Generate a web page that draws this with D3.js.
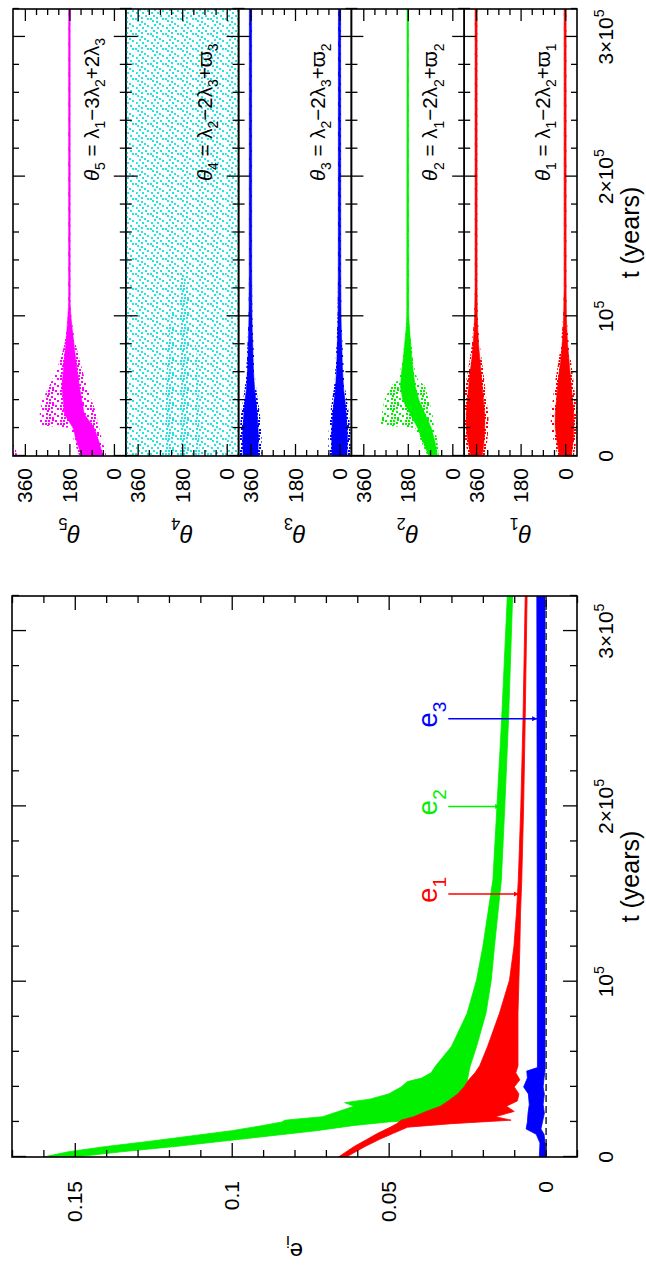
<!DOCTYPE html>
<html>
<head>
<meta charset="utf-8">
<script src="https://cdn.jsdelivr.net/npm/d3@7"></script>
<style>
  body { margin: 0; background: #fff; }
  text { font-family: "Liberation Sans", Arial, Helvetica, sans-serif; fill: #000; }
</style>
</head>
<body>
<script>
// time is in units of 1e5 years everywhere
const tMajor = [0, 1, 2, 3];
const tLabels = [["0", ""], ["10", "5"], ["2×10", "5"], ["3×10", "5"]];
const eMajor = [0, 0.05, 0.1, 0.15];
const eLabels = ["0", "0.05", "0.1", "0.15"];
const thetaMajor = [0, 180, 360];
const thetaLabels = ["0", "180", "360"];

// eccentricity envelopes: [t, min e, max e]
const e1Band = [
  [0, 0.0635, 0.0660], [0.06, 0.0575, 0.0610], [0.10, 0.0530, 0.0570],
  [0.135, 0.0485, 0.0535], [0.17, 0.0440, 0.0495], [0.19, 0.030, 0.0475],
  [0.21, 0.011, 0.046], [0.23, 0.016, 0.042], [0.26, 0.010, 0.038],
  [0.29, 0.0125, 0.0335], [0.32, 0.009, 0.031], [0.36, 0.0085, 0.028],
  [0.40, 0.010, 0.026], [0.44, 0.0082, 0.0245], [0.48, 0.0095, 0.0225],
  [0.52, 0.0088, 0.021], [0.63, 0.0088, 0.0185], [0.82, 0.0088, 0.0147],
  [1.01, 0.0085, 0.0115], [1.20, 0.0082, 0.0101], [1.39, 0.0080, 0.0093],
  [1.58, 0.0076, 0.0087], [2.0, 0.0070, 0.0079], [2.5, 0.0065, 0.0072],
  [3.2, 0.0059, 0.0065]
];
const e2Band = [
  [0, 0.150, 0.160], [0.03, 0.135, 0.152], [0.06, 0.118, 0.140],
  [0.09, 0.103, 0.126], [0.12, 0.088, 0.113], [0.15, 0.073, 0.100],
  [0.18, 0.061, 0.090], [0.20, 0.050, 0.084], [0.21, 0.040, 0.083],
  [0.23, 0.038, 0.071], [0.26, 0.034, 0.066], [0.29, 0.031, 0.061],
  [0.31, 0.030, 0.064], [0.33, 0.029, 0.056], [0.36, 0.0275, 0.050],
  [0.40, 0.026, 0.046], [0.43, 0.025, 0.044], [0.45, 0.0248, 0.0395],
  [0.48, 0.0245, 0.0365], [0.52, 0.024, 0.035], [0.63, 0.022, 0.030],
  [0.82, 0.019, 0.025], [1.01, 0.0173, 0.022], [1.20, 0.0163, 0.020],
  [1.39, 0.0152, 0.0184], [1.58, 0.0141, 0.0168], [2.0, 0.0130, 0.0155],
  [2.5, 0.0118, 0.0140], [3.2, 0.0105, 0.0122]
];
const e3Band = [
  [0, 0.0000, 0.0020], [0.08, 0.0002, 0.0018], [0.13, 0.0005, 0.0030],
  [0.16, 0.0015, 0.0062], [0.20, 0.0010, 0.0058], [0.25, 0.0004, 0.0056],
  [0.30, 0.0008, 0.0052], [0.36, 0.0004, 0.0055], [0.40, 0.0008, 0.0070],
  [0.45, 0.0005, 0.0058], [0.49, 0.0002, 0.0060], [0.51, 0.0002, 0.0026],
  [1.0, 0.0002, 0.0026], [2.0, 0.0002, 0.0027], [3.2, 0.0002, 0.0028]
];
// arrow annotations: [label subscript, t, e at arrow tip]
const eArrows = [["1", 1.5, 0.0085], ["2", 2.0, 0.0145], ["3", 2.5, 0.0027]];

// resonant angle envelopes in degrees: [t, min, max]; outer = sparse scatter, core = dense part
const theta5Outer = [
  [0, 30, 140], [0.1, 45, 160], [0.2, 60, 175], [0.22, 65, 300], [0.3, 70, 300],
  [0.4, 90, 290], [0.5, 110, 262], [0.6, 125, 236], [0.7, 140, 215], [0.8, 155, 200],
  [0.9, 165, 192], [1.0, 172, 186], [1.1, 176, 184], [3.2, 177, 183]
];
const theta5Core = [
  [0, 45, 130], [0.1, 60, 150], [0.2, 80, 165], [0.3, 120, 200], [0.5, 140, 210],
  [0.7, 155, 200], [0.9, 168, 190], [1.0, 174, 186], [1.1, 177, 183], [3.2, 177, 183]
];
const theta4Outer = [[0, 0, 360], [3.2, 0, 360]];
const theta4Core = [[0, 110, 250], [0.5, 115, 245], [1.0, 130, 230], [1.2, 160, 200], [1.3, 180, 180]];
const theta3Outer = [
  [0, -45, 45], [0.15, -45, 45], [0.3, -38, 38], [0.4, -30, 30], [0.47, -24, 24],
  [0.55, -19, 19], [0.66, -16, 16], [0.8, -12, 12], [0.9, -10, 10], [1.0, -8, 8],
  [1.3, -6, 6], [3.2, -5, 5]
];
const theta3Core = [
  [0, -30, 30], [0.15, -32, 32], [0.3, -27, 27], [0.4, -22, 22], [0.47, -17, 17],
  [0.55, -14, 14], [0.66, -11, 11], [0.8, -9, 9], [0.9, -7, 7], [1.0, -6, 6],
  [1.3, -5, 5], [3.2, -4.5, 4.5]
];
const theta2Outer = [
  [0, 55, 100], [0.1, 60, 125], [0.2, 70, 150], [0.22, 75, 290], [0.3, 80, 285],
  [0.4, 95, 275], [0.5, 110, 250], [0.55, 140, 215], [0.6, 150, 212], [0.7, 160, 200],
  [0.8, 165, 195], [0.9, 172, 188], [1.0, 176, 184], [3.2, 177, 183]
];
const theta2Core = [
  [0, 60, 95], [0.1, 70, 118], [0.2, 85, 140], [0.3, 110, 170], [0.4, 135, 200],
  [0.5, 150, 210], [0.6, 158, 205], [0.7, 164, 198], [0.8, 168, 193], [0.9, 173, 187],
  [1.0, 176, 184], [3.2, 177, 183]
];
const theta1Outer = [
  [0, -35, 30], [0.1, -45, 45], [0.2, -50, 58], [0.3, -50, 58], [0.4, -42, 50],
  [0.5, -36, 44], [0.6, -30, 34], [0.7, -22, 25], [0.8, -15, 17], [0.9, -10, 12],
  [1.0, -7, 8], [1.2, -5, 5], [3.2, -5, 5]
];
const theta1Core = [
  [0, -25, 22], [0.1, -32, 32], [0.2, -35, 40], [0.3, -35, 40], [0.4, -30, 35],
  [0.5, -25, 30], [0.6, -20, 24], [0.7, -15, 17], [0.8, -10, 12], [0.9, -7, 8],
  [1.0, -5, 6], [1.2, -4, 4], [3.2, -4, 4]
];
// formula text pieces: [text, kind]
const formula5 = [["θ", "it"], ["5", "sub"], [" = λ", ""], ["1", "sub"], ["−3λ", ""], ["2", "sub"], ["+2λ", ""], ["3", "sub"]];
const formula4 = [["θ", "it"], ["4", "sub"], [" = λ", ""], ["2", "sub"], ["−2λ", ""], ["3", "sub"], ["+ϖ", ""], ["3", "sub"]];
const formula3 = [["θ", "it"], ["3", "sub"], [" = λ", ""], ["2", "sub"], ["−2λ", ""], ["3", "sub"], ["+ϖ", ""], ["2", "sub"]];
const formula2 = [["θ", "it"], ["2", "sub"], [" = λ", ""], ["1", "sub"], ["−2λ", ""], ["2", "sub"], ["+ϖ", ""], ["2", "sub"]];
const formula1 = [["θ", "it"], ["1", "sub"], [" = λ", ""], ["1", "sub"], ["−2λ", ""], ["2", "sub"], ["+ϖ", ""], ["1", "sub"]];

const RED = "#ff0000", GREEN = "#00f000", BLUE = "#0000ff", MAGENTA = "#ff00ff", CYAN = "#22e4e4";

const thetaPanels = [
  { n: "5", color: MAGENTA, outer: theta5Outer, core: theta5Core, formula: formula5 },
  { n: "4", color: CYAN, outer: theta4Outer, core: theta4Core, formula: formula4, stipple: true },
  { n: "3", color: BLUE, outer: theta3Outer, core: theta3Core, formula: formula3 },
  { n: "2", color: GREEN, outer: theta2Outer, core: theta2Core, formula: formula2 },
  { n: "1", color: RED, outer: theta1Outer, core: theta1Core, formula: formula1 }
];

// the figure is drawn landscape (1265 x 646) and turned a quarter turn
const FW = 1265;
const svg = d3.select("body").append("svg").attr("width", 646).attr("height", 1265);
const defs = svg.append("defs");
const fig = svg.append("g").attr("transform", `translate(0,${FW}) rotate(-90)`);

// stipple tiles that imitate dense scatter points
const sparseDots = [[0, 0], [6, 1], [3, 3], [9, 4], [1, 6], [6, 7], [10, 9], [3, 10], [8, 12], [13, 2], [12, 6], [0, 12]];
const extraDots = [[3, 0], [10, 1], [0, 3], [6, 4], [4, 7], [9, 7], [0, 9], [6, 10], [13, 11], [12, 14]];
function pattern(id, color, dots, size) {
  const p = defs.append("pattern").attr("id", id)
    .attr("patternUnits", "userSpaceOnUse").attr("width", size).attr("height", size);
  dots.forEach(([x, y]) => p.append("rect").attr("x", x).attr("y", y)
    .attr("width", 2).attr("height", 2).attr("fill", color));
}

function arrowMarker(id, color) {
  defs.append("marker").attr("id", id).attr("viewBox", "0 0 10 10")
    .attr("refX", 10).attr("refY", 5).attr("markerWidth", 7).attr("markerHeight", 5)
    .attr("markerUnits", "userSpaceOnUse").attr("orient", "auto")
    .append("path").attr("d", "M0,0L10,5L0,10Z").attr("fill", color);
}

function richText(sel, segs, size) {
  let shift = 0;
  segs.forEach(([s, kind]) => {
    const target = kind === "sub" ? size * 0.3 : kind === "sup" ? -size * 0.45 : 0;
    const ts = sel.append("tspan").attr("dy", target - shift).text(s);
    if (kind === "sub" || kind === "sup") ts.attr("font-size", size * 0.68);
    if (kind === "it") ts.attr("font-style", "italic");
    shift = target;
  });
}

function tickSet(g, axisFn, scale, values, len) {
  g.call(axisFn(scale).tickValues(values).tickSize(-len).tickFormat(""))
    .call(a => a.select(".domain").remove())
    .call(a => a.selectAll("line").attr("stroke", "#000").attr("stroke-width", 1.3));
}

const tMinor = d3.range(0, 3.21, 0.2).filter(t => Math.abs(t - Math.round(t)) > 1e-6);
const eMinor = d3.range(-0.01, 0.1701, 0.01).filter(e => Math.abs(e / 0.05 - Math.round(e / 0.05)) > 1e-6);
const thetaMinor = [45, 90, 135, 225, 270, 315];

function tTickLabels(g, x, y) {
  tMajor.forEach((t, i) => {
    const txt = g.append("text").attr("x", x(t)).attr("y", y)
      .attr("text-anchor", "middle").attr("font-size", 21);
    richText(txt, [[tLabels[i][0], ""], [tLabels[i][1], "sup"]], 21);
  });
}

// ---------------- left panel: e_i ----------------
const L = { x0: 108, x1: 669, y0: 12, y1: 577 };
const xL = d3.scaleLinear().domain([0, 3.2]).range([L.x0, L.x1]);
const yL = d3.scaleLinear().domain([-0.01, 0.17]).range([L.y1, L.y0]);

defs.append("clipPath").attr("id", "clipL").append("rect")
  .attr("x", L.x0).attr("y", L.y0).attr("width", L.x1 - L.x0).attr("height", L.y1 - L.y0);

const left = fig.append("g");
const plotL = left.append("g").attr("clip-path", "url(#clipL)");
const bandArea = d3.area().x(d => xL(d[0])).y0(d => yL(d[1])).y1(d => yL(d[2]));

[[e2Band, GREEN], [e1Band, RED], [e3Band, BLUE]].forEach(([band, color]) => {
  plotL.append("path").datum(band).attr("d", bandArea)
    .attr("fill", color).attr("stroke", color).attr("stroke-width", 0.8);
});

plotL.append("line").attr("x1", L.x0).attr("x2", L.x1).attr("y1", yL(0) + 0.5).attr("y2", yL(0) + 0.5)
  .attr("stroke", "#333").attr("stroke-width", 1.6).attr("stroke-dasharray", "7,4");

tickSet(left.append("g").attr("transform", `translate(0,${L.y1})`), d3.axisBottom, xL, tMajor, 14);
tickSet(left.append("g").attr("transform", `translate(0,${L.y1})`), d3.axisBottom, xL, tMinor, 7);
tickSet(left.append("g").attr("transform", `translate(0,${L.y0})`), d3.axisTop, xL, tMajor, 14);
tickSet(left.append("g").attr("transform", `translate(0,${L.y0})`), d3.axisTop, xL, tMinor, 7);
tickSet(left.append("g").attr("transform", `translate(${L.x0},0)`), d3.axisLeft, yL, eMajor, 14);
tickSet(left.append("g").attr("transform", `translate(${L.x0},0)`), d3.axisLeft, yL, eMinor, 7);
tickSet(left.append("g").attr("transform", `translate(${L.x1},0)`), d3.axisRight, yL, eMajor, 14);
tickSet(left.append("g").attr("transform", `translate(${L.x1},0)`), d3.axisRight, yL, eMinor, 7);

left.append("rect").attr("x", L.x0).attr("y", L.y0).attr("width", L.x1 - L.x0).attr("height", L.y1 - L.y0)
  .attr("fill", "none").attr("stroke", "#000").attr("stroke-width", 1.6);

eMajor.forEach((e, i) => {
  left.append("text").attr("x", L.x0 - 24).attr("y", yL(e) + 7.5)
    .attr("text-anchor", "end").attr("font-size", 21).text(eLabels[i]);
});
tTickLabels(left, xL, 613);
left.append("text").attr("x", (L.x0 + L.x1) / 2).attr("y", 639).attr("text-anchor", "middle")
  .attr("font-size", 25).text("t  (years)");
const eTitle = left.append("text").attr("text-anchor", "middle").attr("font-size", 24)
  .attr("transform", `translate(22,${(L.y0 + L.y1) / 2}) rotate(-90)`);
richText(eTitle, [["e", ""], ["i", "sub"]], 24);

const arrowColors = { "1": RED, "2": GREEN, "3": BLUE };
eArrows.forEach(([n, t, e]) => {
  const color = arrowColors[n];
  arrowMarker("arrow" + n, color);
  left.append("line").attr("x1", xL(t)).attr("x2", xL(t))
    .attr("y1", yL(0.031)).attr("y2", yL(e))
    .attr("stroke", color).attr("stroke-width", 1.5).attr("marker-end", `url(#arrow${n})`);
  const lab = left.append("text").attr("x", xL(t) - 9).attr("y", yL(0.0345))
    .attr("font-size", 28).attr("fill", color);
  richText(lab, [["e", ""], [n, "sub"]], 28);
  lab.selectAll("tspan").attr("fill", color);
});

// ---------------- right panel: resonant angles ----------------
const R = { x0: 809, x1: 1256, y0: 13, y1: 577 };
const xR = d3.scaleLinear().domain([0, 3.2]).range([R.x0, R.x1]);
const subH = (R.y1 - R.y0) / thetaPanels.length;
const right = fig.append("g");

thetaPanels.forEach((p, i) => {
  const top = R.y0 + i * subH, bot = top + subH;
  const y = d3.scaleLinear().domain([-48, 408]).range([bot, top]);
  const g = right.append("g");
  const clipId = "clipT" + p.n;
  defs.append("clipPath").attr("id", clipId).append("rect")
    .attr("x", R.x0).attr("y", top).attr("width", R.x1 - R.x0).attr("height", subH);
  if (p.stipple) {
    pattern("sp" + p.n, p.color, sparseDots, 15);
    pattern("dp" + p.n, p.color, extraDots.slice(0, 5), 15);
  } else {
    pattern("sp" + p.n, p.color, sparseDots.concat(extraDots.slice(0, 5)), 15);
  }

  const plot = g.append("g").attr("clip-path", `url(#${clipId})`);
  // angles are shown with their 360 degree copies so the wrap-around is continuous
  [-360, 0, 360].forEach(off => {
    const a = d3.area().x(d => xR(d[0])).y0(d => y(d[1] + off)).y1(d => y(d[2] + off));
    plot.append("path").datum(p.outer).attr("d", a).attr("fill", `url(#sp${p.n})`);
    if (p.stipple) {
      plot.append("path").datum(p.core).attr("d", a).attr("fill", `url(#dp${p.n})`);
    } else {
      plot.append("path").datum(p.core).attr("d", a)
        .attr("fill", p.color).attr("stroke", p.color).attr("stroke-width", 0.6);
    }
  });

  tickSet(g.append("g").attr("transform", `translate(0,${bot})`), d3.axisBottom, xR, tMajor, 12);
  tickSet(g.append("g").attr("transform", `translate(0,${bot})`), d3.axisBottom, xR, tMinor, 6);
  tickSet(g.append("g").attr("transform", `translate(0,${top})`), d3.axisTop, xR, tMajor, 12);
  tickSet(g.append("g").attr("transform", `translate(0,${top})`), d3.axisTop, xR, tMinor, 6);
  tickSet(g.append("g").attr("transform", `translate(${R.x0},0)`), d3.axisLeft, y, thetaMajor, 12);
  tickSet(g.append("g").attr("transform", `translate(${R.x0},0)`), d3.axisLeft, y, thetaMinor, 6);
  tickSet(g.append("g").attr("transform", `translate(${R.x1},0)`), d3.axisRight, y, thetaMajor, 12);
  tickSet(g.append("g").attr("transform", `translate(${R.x1},0)`), d3.axisRight, y, thetaMinor, 6);

  g.append("rect").attr("x", R.x0).attr("y", top).attr("width", R.x1 - R.x0).attr("height", subH)
    .attr("fill", "none").attr("stroke", "#000").attr("stroke-width", 1.6);

  thetaMajor.forEach((v, k) => {
    g.append("text").attr("x", R.x0 - 12).attr("y", y(v) + 7.5)
      .attr("text-anchor", "end").attr("font-size", 21).text(thetaLabels[k]);
  });
  const title = g.append("text").attr("text-anchor", "middle").attr("font-size", 24)
    .attr("transform", `translate(740,${(top + bot) / 2}) rotate(-90)`);
  richText(title, [["θ", "it"], [p.n, "sub"]], 24);

  const f = g.append("text").attr("x", 1084).attr("y", top + 86).attr("font-size", 20.5);
  richText(f, p.formula, 20.5);
});

tTickLabels(right, xR, 613);
right.append("text").attr("x", (R.x0 + R.x1) / 2).attr("y", 639).attr("text-anchor", "middle")
  .attr("font-size", 25).text("t  (years)");
</script>
</body>
</html>
